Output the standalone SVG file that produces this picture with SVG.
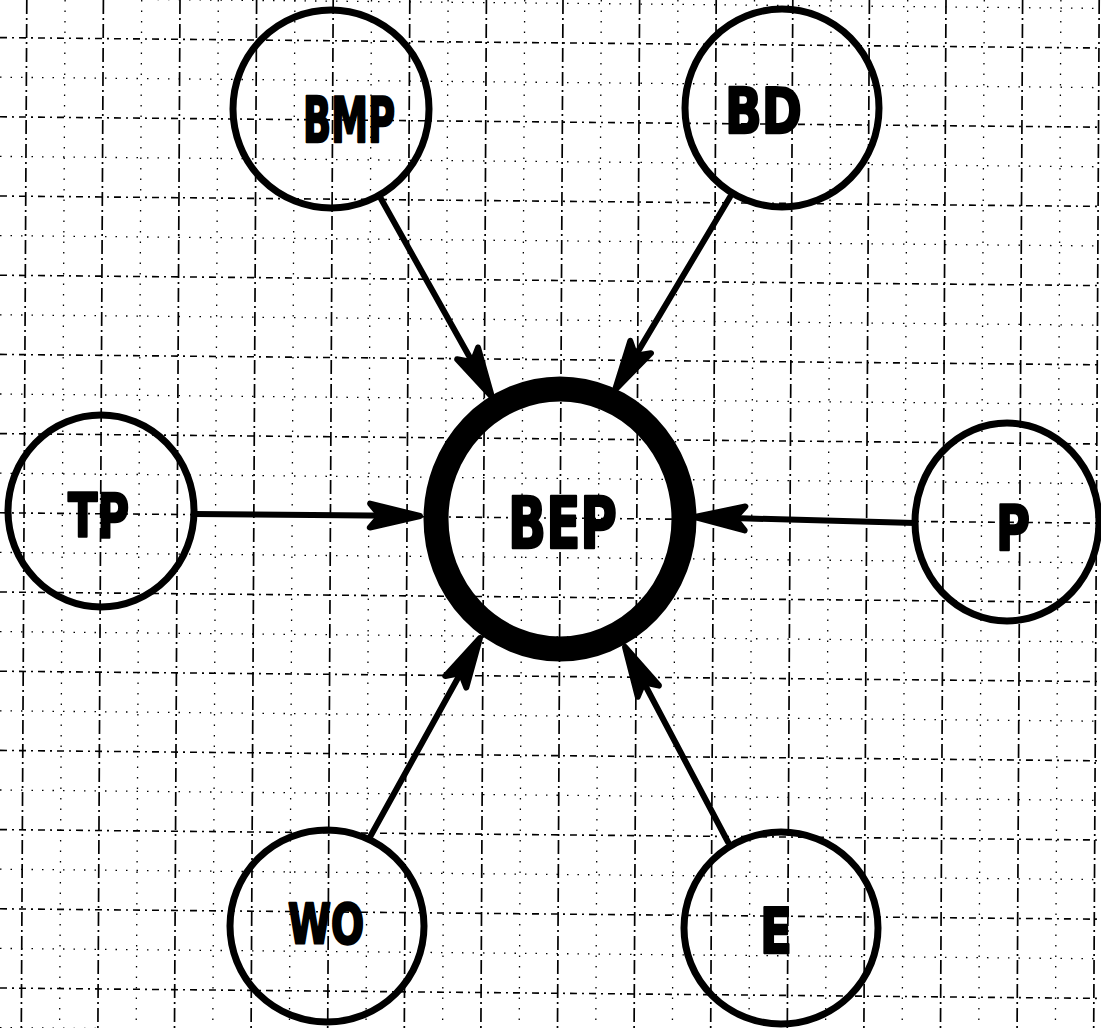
<svg xmlns="http://www.w3.org/2000/svg" width="1101" height="1028" viewBox="0 0 1101 1028">
  <style>
    .gmaj { stroke: #000; stroke-width: 1.6; fill: none; stroke-dasharray: 7 5 2 5; }
    .gmin { stroke: #000; stroke-width: 1.3; fill: none; stroke-dasharray: 1.5 9; }
    .vmaj { stroke: #000; stroke-width: 1.7; fill: none; stroke-dasharray: 14 4 2 4; }
    .node { fill: none; stroke: #000; stroke-width: 7; }
    .hub { fill: none; stroke: #000; stroke-width: 25; }
    .lbl { font-family: "DejaVu Sans", "Liberation Sans", sans-serif; font-weight: bold; fill: #000; stroke: #000; stroke-width: 2.5; stroke-linejoin: round; }
    .edge { stroke: #000; stroke-width: 6; fill: none; stroke-linecap: round; }
  </style>
  <defs>
    <!-- dart-shaped arrowhead with a shallow notch, tip at the origin pointing along +x -->
    <path id="dart" d="M0,0 L-50,-12 L-40,0 L-50,12 Z" fill="#000" stroke="#000" stroke-width="6" stroke-linejoin="round"/>
  </defs>
  <rect width="1101" height="1028" fill="#fff"/>

  <!-- graph paper: horizontal rules, slightly tilted -->
  <g id="grid-h">
    <path class="gmin" d="M0,-2 L1101,8.4"/>
    <path class="gmaj" d="M0,37.6 L1101,48"/>
    <path class="gmin" d="M0,77.2 L1101,87.6"/>
    <path class="gmaj" d="M0,116.8 L1101,127.2"/>
    <path class="gmin" d="M0,156.4 L1101,166.8"/>
    <path class="gmaj" d="M0,196 L1101,206.4"/>
    <path class="gmin" d="M0,235.6 L1101,246"/>
    <path class="gmaj" d="M0,275.2 L1101,285.6"/>
    <path class="gmin" d="M0,314.8 L1101,325.2"/>
    <path class="gmaj" d="M0,354.4 L1101,364.8"/>
    <path class="gmin" d="M0,394 L1101,404.4"/>
    <path class="gmaj" d="M0,433.6 L1101,444"/>
    <path class="gmin" d="M0,473.2 L1101,483.6"/>
    <path class="gmaj" d="M0,512.8 L1101,523.2"/>
    <path class="gmin" d="M0,552.4 L1101,562.8"/>
    <path class="gmaj" d="M0,592 L1101,602.4"/>
    <path class="gmin" d="M0,631.6 L1101,642"/>
    <path class="gmaj" d="M0,671.2 L1101,681.6"/>
    <path class="gmin" d="M0,710.8 L1101,721.2"/>
    <path class="gmaj" d="M0,750.4 L1101,760.8"/>
    <path class="gmin" d="M0,790 L1101,800.4"/>
    <path class="gmaj" d="M0,829.6 L1101,840"/>
    <path class="gmin" d="M0,869.2 L1101,879.6"/>
    <path class="gmaj" d="M0,908.8 L1101,919.2"/>
    <path class="gmin" d="M0,948.4 L1101,958.8"/>
    <path class="gmaj" d="M0,988 L1101,998.4"/>
    <path class="gmin" d="M0,1027.6 L1101,1038"/>
  </g>

  <!-- graph paper: vertical rules -->
  <g id="grid-v">
    <path class="vmaj" d="M26.8,0 L21.3,1028"/>
    <path class="gmin" d="M65.1,0 L59.6,1028"/>
    <path class="vmaj" d="M103.4,0 L97.9,1028"/>
    <path class="gmin" d="M141.7,0 L136.2,1028"/>
    <path class="vmaj" d="M180,0 L174.5,1028"/>
    <path class="gmin" d="M218.3,0 L212.8,1028"/>
    <path class="vmaj" d="M256.6,0 L251.1,1028"/>
    <path class="gmin" d="M294.9,0 L289.4,1028"/>
    <path class="vmaj" d="M333.2,0 L327.7,1028"/>
    <path class="gmin" d="M371.5,0 L366,1028"/>
    <path class="vmaj" d="M409.8,0 L404.3,1028"/>
    <path class="gmin" d="M448.1,0 L442.6,1028"/>
    <path class="vmaj" d="M486.4,0 L480.9,1028"/>
    <path class="gmin" d="M524.7,0 L519.2,1028"/>
    <path class="vmaj" d="M563,0 L557.5,1028"/>
    <path class="gmin" d="M601.3,0 L595.8,1028"/>
    <path class="vmaj" d="M639.6,0 L634.1,1028"/>
    <path class="gmin" d="M677.9,0 L672.4,1028"/>
    <path class="vmaj" d="M716.2,0 L710.7,1028"/>
    <path class="gmin" d="M754.5,0 L749,1028"/>
    <path class="vmaj" d="M792.8,0 L787.3,1028"/>
    <path class="gmin" d="M831.1,0 L825.6,1028"/>
    <path class="vmaj" d="M869.4,0 L863.9,1028"/>
    <path class="gmin" d="M907.7,0 L902.2,1028"/>
    <path class="vmaj" d="M946,0 L940.5,1028"/>
    <path class="gmin" d="M984.3,0 L978.8,1028"/>
    <path class="vmaj" d="M1022.6,0 L1017.1,1028"/>
    <path class="gmin" d="M1060.9,0 L1055.4,1028"/>
    <path class="vmaj" d="M1099.2,0 L1093.7,1028"/>
  </g>

  <!-- connectors: every satellite points into the hub -->
  <g id="edges">
    <line class="edge" x1="380" y1="197" x2="481.2" y2="377.8"/>
    <use href="#dart" transform="translate(492 397) rotate(60.75)"/>
    <line class="edge" x1="730" y1="197" x2="626.3" y2="371.1"/>
    <use href="#dart" transform="translate(615 390) rotate(120.8)"/>
    <line class="edge" x1="195" y1="514" x2="398" y2="515.8"/>
    <use href="#dart" transform="translate(420 516) rotate(0.5)"/>
    <line class="edge" x1="915" y1="523" x2="717" y2="517.6"/>
    <use href="#dart" transform="translate(695 517) rotate(181.6)"/>
    <line class="edge" x1="370" y1="837" x2="469.4" y2="657.3"/>
    <use href="#dart" transform="translate(480 638) rotate(-61.07)"/>
    <line class="edge" x1="728" y1="842" x2="635.3" y2="666.5"/>
    <use href="#dart" transform="translate(625 647) rotate(-117.85)"/>
  </g>

  <g id="node-BEP">
    <ellipse class="hub" cx="560" cy="519" rx="124" ry="130"/>
    <text class="lbl" x="508" y="548" font-size="71" textLength="109" lengthAdjust="spacingAndGlyphs">BEP</text>
  </g>
  <g id="node-BMP">
    <ellipse class="node" cx="331" cy="109" rx="98" ry="99"/>
    <text class="lbl" x="303" y="142" font-size="62" textLength="92" lengthAdjust="spacingAndGlyphs">BMP</text>
  </g>
  <g id="node-BD">
    <ellipse class="node" cx="782" cy="108" rx="97" ry="99"/>
    <text class="lbl" x="725" y="133" font-size="62" textLength="77" lengthAdjust="spacingAndGlyphs">BD</text>
  </g>
  <g id="node-TP">
    <ellipse class="node" cx="101" cy="511" rx="93" ry="96"/>
    <text class="lbl" x="68" y="537" font-size="61" textLength="61" lengthAdjust="spacingAndGlyphs">TP</text>
  </g>
  <g id="node-P">
    <ellipse class="node" cx="1007" cy="522" rx="92" ry="99"/>
    <text class="lbl" x="996" y="550" font-size="62" textLength="34" lengthAdjust="spacingAndGlyphs">P</text>
  </g>
  <g id="node-WO">
    <ellipse class="node" cx="327" cy="926" rx="97" ry="96"/>
    <text class="lbl" x="288" y="943" font-size="56" textLength="76" lengthAdjust="spacingAndGlyphs">WO</text>
  </g>
  <g id="node-E">
    <ellipse class="node" cx="781" cy="928" rx="97" ry="96"/>
    <text class="lbl" x="760" y="953" font-size="62" textLength="32" lengthAdjust="spacingAndGlyphs">E</text>
  </g>
</svg>
